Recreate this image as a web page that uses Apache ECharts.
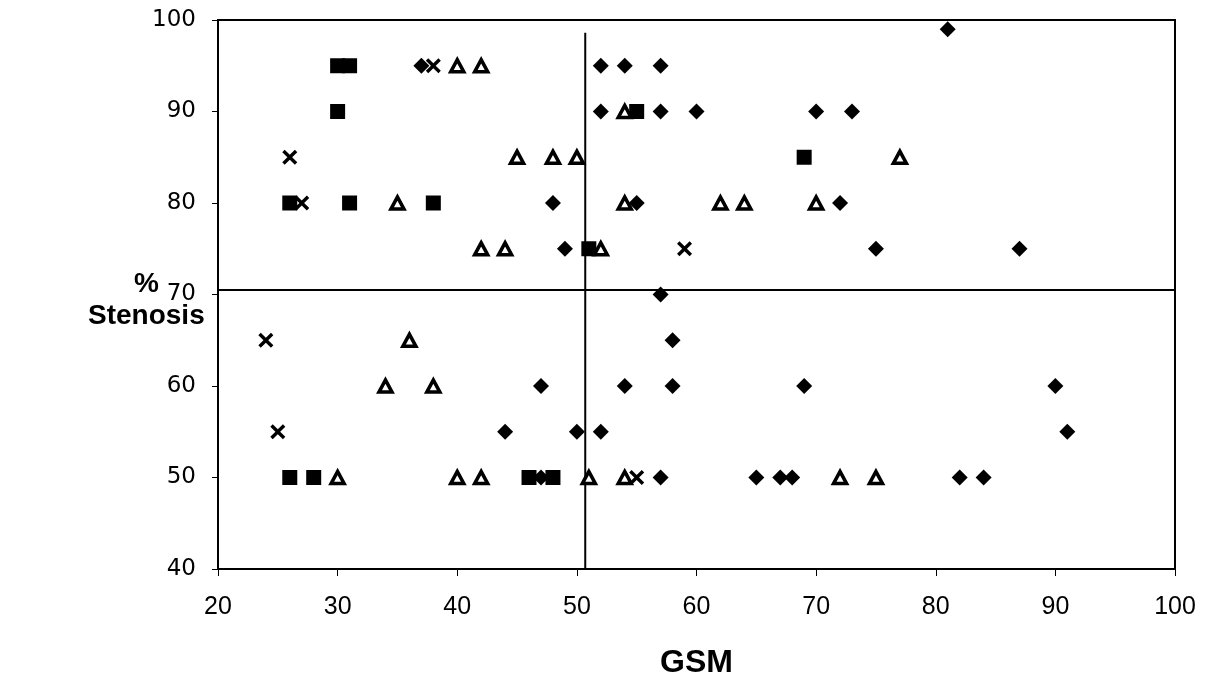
<!DOCTYPE html>
<html>
<head>
<meta charset="utf-8">
<script src="https://cdn.jsdelivr.net/npm/echarts@6/dist/echarts.min.js"></script>
<style>
html,body{margin:0;padding:0;background:#fff;}
#chart{width:1210px;height:684px;}
</style>
</head>
<body>
<div id="chart"></div>
<script>
// Data: [GSM, % stenosis]
const diamonds = [
  [37,95],[52,95],[54,95],[57,95],
  [52,90],[57,90],[60,90],[70,90],[73,90],
  [48,80],[55,80],[72,80],
  [49,75],[75,75],[87,75],
  [57,70],[58,65],
  [47,60],[54,60],[58,60],[69,60],[90,60],
  [44,55],[50,55],[52,55],[91,55],
  [47,50],[57,50],[65,50],[67,50],[68,50],[82,50],[84,50],
  [81,99]
];
const squares = [
  [30,95],[31,95],[30,90],[55,90],[69,85],[26,80],[31,80],[38,80],
  [51,75],[26,50],[28,50],[46,50],[48,50]
];
const triangles = [
  [40,95],[42,95],[54,90],[45,85],[48,85],[50,85],[77,85],
  [35,80],[54,80],[62,80],[64,80],[70,80],
  [42,75],[44,75],[52,75],[36,65],[34,60],[38,60],
  [30,50],[40,50],[42,50],[51,50],[54,50],[72,50],[75,50]
];
const crosses = [
  [38,95],[26,85],[27,80],[59,75],[24,65],[25,55],[55,50]
];
const hLine = [[20,70.5],[100,70.5]];
const vLine = [[50.7,40],[50.7,98.6]];
const xTicks = [20,30,40,50,60,70,80,90,100];
const yTicks = [40,50,60,70,80,90,100];

const crossPath = 'path://M0,1.6L1.6,0L5,3.4L8.4,0L10,1.6L6.6,5L10,8.4L8.4,10L5,6.6L1.6,10L0,8.4L3.4,5Z';

const chart = echarts.init(document.getElementById('chart'), null, {renderer:'canvas'});
chart.setOption({
  animation:false,
  backgroundColor:'#fff',
  grid:{left:218,right:35,top:20,bottom:114,show:true,borderColor:'#000',borderWidth:2,backgroundColor:'transparent'},
  xAxis:{
    type:'value',min:xTicks[0],max:xTicks[xTicks.length-1],interval:10,
    name:'GSM',nameLocation:'middle',nameGap:78,
    nameTextStyle:{fontFamily:'Liberation Sans',fontWeight:'bold',fontSize:32,color:'#000'},
    axisLine:{show:true,lineStyle:{color:'#000',width:1.5}},
    axisTick:{show:true,inside:false,length:7,lineStyle:{color:'#000',width:1}},
    axisLabel:{fontFamily:'Liberation Sans',fontSize:25,color:'#000',margin:26},
    splitLine:{show:false}
  },
  yAxis:{
    type:'value',min:yTicks[0],max:yTicks[yTicks.length-1],interval:10,
    axisLine:{show:true,lineStyle:{color:'#000',width:1.5}},
    axisTick:{show:true,inside:false,length:6,lineStyle:{color:'#000',width:1}},
    axisLabel:{fontFamily:'DejaVu Sans',fontSize:23,color:'#000',margin:22},
    splitLine:{show:false}
  },
  graphic:[{
    type:'text',left:88,top:268,
    style:{text:'%\nStenosis',fill:'#000',font:'bold 28px "Liberation Sans"',textAlign:'center',lineHeight:32,x:60}
  }],
  series:[
    {type:'line',data:hLine,symbol:'none',lineStyle:{color:'#000',width:2},z:1,silent:true},
    {type:'line',data:vLine,symbol:'none',lineStyle:{color:'#000',width:2},z:1,silent:true},
    {type:'scatter',data:diamonds,symbol:'diamond',symbolSize:16,itemStyle:{color:'#000',opacity:1},z:3},
    {type:'scatter',data:squares,symbol:'rect',symbolSize:15,itemStyle:{color:'#000',opacity:1},z:3},
    {type:'scatter',data:triangles,symbol:'triangle',symbolSize:[13,12],itemStyle:{color:'#fff',borderColor:'#000',borderWidth:3.5,opacity:1},z:4},
    {type:'scatter',data:crosses,symbol:crossPath,symbolSize:15,itemStyle:{color:'#000',opacity:1},z:5}
  ]
});
</script>
</body>
</html>
